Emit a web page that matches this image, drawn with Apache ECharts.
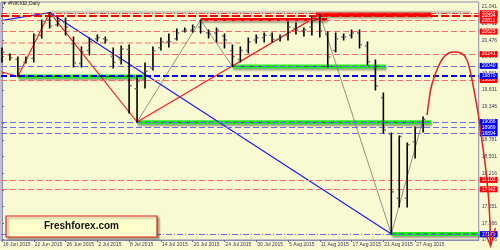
<!DOCTYPE html>
<html><head><meta charset="utf-8">
<script src="https://cdn.jsdelivr.net/npm/echarts@6/dist/echarts.min.js"></script>
<style>html,body{margin:0;padding:0;background:#fafad2}#c{width:500px;height:250px}</style>
</head><body><div id="c"></div>
<script>
// ---- data ----
const dates = ['16 Jun 2015','17 Jun 2015','18 Jun 2015','19 Jun 2015','22 Jun 2015','23 Jun 2015','24 Jun 2015','25 Jun 2015','26 Jun 2015','29 Jun 2015','30 Jun 2015',
 '1 Jul 2015','2 Jul 2015','3 Jul 2015','6 Jul 2015','7 Jul 2015','8 Jul 2015','9 Jul 2015','10 Jul 2015','13 Jul 2015','14 Jul 2015','15 Jul 2015','16 Jul 2015','17 Jul 2015','20 Jul 2015','21 Jul 2015','22 Jul 2015','23 Jul 2015','24 Jul 2015','27 Jul 2015','28 Jul 2015','29 Jul 2015','30 Jul 2015','31 Jul 2015',
 '3 Aug 2015','4 Aug 2015','5 Aug 2015','6 Aug 2015','7 Aug 2015','10 Aug 2015','11 Aug 2015','12 Aug 2015','13 Aug 2015','14 Aug 2015','17 Aug 2015','18 Aug 2015','19 Aug 2015','20 Aug 2015','21 Aug 2015','24 Aug 2015','25 Aug 2015','26 Aug 2015','27 Aug 2015','28 Aug 2015'];
const opens  = [20200,20230,20150,20100,20170,20560,20820,20740,20780,20420,20080,20300,20500,20500,20200,20150,20320,19650,19800,20000,20350,20450,20500,20630,20650,20700,20600,20600,20550,20300,20150,20300,20480,20520,20560,20500,20560,20680,20640,20700,20850,20580,20300,20530,20560,20600,20380,20000,19500,18880,17790,17790,18750,19000];
const highs  = [20344,20242,20191,20191,20582,20820,20948,20854,20854,20531,20361,20514,20565,20531,20344,20378,20395,19851,20089,20361,20514,20582,20667,20684,20735,20820,20650,20684,20582,20395,20361,20514,20565,20599,20599,20565,20786,20769,20684,20871,20914,20616,20599,20582,20650,20650,20446,20140,19579,18899,18848,18729,19001,19171];
const lows   = [20106,20140,19860,20089,20106,20514,20684,20718,20565,20021,20021,20225,20463,20429,20004,20072,19239,19086,19664,19970,20310,20361,20480,20616,20616,20599,20514,20446,20344,20030,20106,20259,20429,20446,20446,20463,20480,20582,20548,20565,20531,20021,20276,20480,20514,20344,20055,19630,18899,17182,17641,17641,18474,18916];
const closes = [20270,20180,19990,20170,20560,20800,20720,20790,20700,20090,20280,20450,20520,20480,20100,20330,19700,19780,19950,20300,20450,20450,20600,20650,20700,20780,20580,20650,20480,20200,20300,20450,20520,20560,20490,20540,20700,20650,20650,20830,20640,20190,20500,20530,20600,20400,20110,19700,18950,17900,18840,18700,18990,19130];

const dateTickIdx = [0,4,8,12,16,20,24,28,32,36,40,44,48,52];
const priceTicks = [21041,20761,20476,20196,19911,19631,19346,19061,18781,18501,18216,17931,17651,17366,17086];

const redDashDotLevel = 20935;
const redThickLevel = 20894;
const redDashedLevels = [20811,20623,20241,19800,18102,17942];
const blueThickLevel = 19870;
const blueDashedLevels = [20040,19086,18989,18894];
const blueDashDotLevel = 17179;
const blueExtraLabel = 19150;

const redPartial = [[-0.125,20429],[30,20429]];
const redZoneA = [[25,20828],[40.9,20828]];
const redZoneB = [[39.5,20914],[54,20914]];
const greenLines = [
  [[2,19860],[18,19860]],
  [[29,20030],[48.3,20030]],
  [[17,19081],[54,19081]],
  [[49,17182],[60,17182]]
];
const zigRed  = [[-0.125,19941],[2,19860],[6,20948],[17,19086],[40,20914]];
const zigBlue = [[-0.125,20808],[6,20948],[49,17182]];
const zigGray = [[17,19086],[25,20820],[29,20030],[40,20914],[49,17182],[53,19130]];
const forecast = [[53.5,19205],[53.75,19460],[54,19664],[54.4,19851],[54.9,20021],[55.5,20174],[56.25,20259],[57,20276],[57.75,20259],[58.4,20174],[58.9,19970],[59.4,19630],[59.9,19256],[60.4,18780],[60.9,18270],[61.3,17675],[61.5,16990]];
const arrowHead = [[60.8,17216],[61.5,16975],[62.1,17284]];

// ---- chart ----
const ohlc = dates.map((d,i)=>[i,opens[i],highs[i],lows[i],closes[i]]);
const chart = echarts.init(document.getElementById('c'), null, {renderer:'canvas'});
const FONT = 'Liberation Sans';

function lvl(v, color, width, type, bg, showLine){
  return {yAxis:v,
    lineStyle:{color:color,width:width,type:type,opacity: showLine===false?0:1},
    label:{show:true,position:'end',distance:1,formatter:String(v),color:'#fff',backgroundColor:bg,fontSize:5,fontFamily:FONT,padding:[1,2,0,2]}};
}
const markData = [];
markData.push(lvl(redDashDotLevel,'#ff3030',1,[6,2,1,2],'#ff0000'));
markData.push(lvl(redThickLevel,'#ff0000',2,[8,3],'#ff0000'));
redDashedLevels.forEach(v=>markData.push(lvl(v,'#ff6a6a',1,[6,3],'#ff0000')));
markData.push(lvl(blueThickLevel,'#0000ff',2,[6,3],'#0000ee'));
blueDashedLevels.forEach(v=>markData.push(lvl(v,'#6a6aff',1,[6,3],'#0000ee')));
markData.push(lvl(blueExtraLabel,'#6a6aff',1,'solid','#0000ee',false));
markData.push(lvl(blueDashDotLevel,'#6a6aff',1,[6,2,1,2],'#0000ee'));

function seg(data, color, width, type, z, shadow){
  return {type:'line', data:data, symbol:'none', silent:true, z:z, clip:true,
    lineStyle:Object.assign({color:color,width:width,type:type||'solid'}, shadow?{shadowColor:'rgba(0,0,0,0.35)',shadowBlur:2,shadowOffsetX:1,shadowOffsetY:2}:{})};
}
function freePath(points, color, width, smooth, z){
  return {type:'custom', data:[0], z:z, silent:true, clip:false,
    renderItem:function(params, api){
      return {type:'polyline', shape:{points:points.map(p=>api.coord(p)), smooth:smooth},
        style:{stroke:color,lineWidth:width,fill:null}};
    }};
}

const series = [];
series.push({type:'line', data:[], symbol:'none', silent:true, z:1, labelLayout:{hideOverlap:false},
  markLine:{silent:true, symbol:'none', animation:false, data:markData}});
series.push(seg([[6,20950],[59,20950]],'rgba(150,150,150,0.45)',3,'solid',1));
series.push(seg(redPartial,'#ff6a6a',1,[6,3],1));
series.push(seg(redZoneA,'#ff0000',3,'solid',2,true));
series.push(seg(redZoneB,'#ff0000',4,'solid',2,true));
greenLines.forEach(g=>{
  series.push(seg(g,'#22ee22',4,'solid',2,true));
  series.push(seg(g,'#007a00',1,[5,3],3));
});
series.push(seg(zigGray,'#77776a',0.8,'solid',3));
series.push(seg(zigBlue,'#1a1aff',1.2,'solid',3));
series.push(seg(zigRed,'#ff1a1a',1.2,'solid',3));
series.push({type:'custom', data:ohlc, z:5, silent:true, clip:true,
  encode:{x:0,y:[1,2,3,4]},
  renderItem:function(params, api){
    const x=api.value(0);
    const o=api.coord([x,api.value(1)]), h=api.coord([x,api.value(2)]), l=api.coord([x,api.value(3)]), c=api.coord([x,api.value(4)]);
    return {type:'group', children:[
      {type:'line', shape:{x1:h[0],y1:h[1]-0.5,x2:l[0],y2:l[1]+0.5}, style:{stroke:'#000',lineWidth:1.6}},
      {type:'line', shape:{x1:o[0]-2.5,y1:o[1],x2:o[0]-0.5,y2:o[1]}, style:{stroke:'#7a7a7a',lineWidth:1.6}},
      {type:'line', shape:{x1:c[0]+0.5,y1:c[1],x2:c[0]+2.5,y2:c[1]}, style:{stroke:'#7a7a7a',lineWidth:1.6}}
    ]};
  }});
series.push(freePath(forecast,'#dd2222',1.5,0.4,6));
series.push(freePath(arrowHead,'#dd2222',1.3,0,6));

chart.setOption({
  animation:false,
  backgroundColor:'#fafad2',
  grid:{left:0,right:19,top:2,bottom:10,show:true,borderColor:'#8a8ab8',borderWidth:1,backgroundColor:'transparent'},
  xAxis:{type:'value',min:-0.125,max:60,
    axisLine:{show:true,lineStyle:{color:'#8a8ab8'}},
    axisTick:{show:true,customValues:dateTickIdx,length:2,lineStyle:{color:'#6a6a98'}},
    axisLabel:{customValues:dateTickIdx,formatter:v=>dates[Math.round(v)]||'',fontSize:5,fontFamily:FONT,color:'#3a3a5a',align:'left',margin:2,padding:[0,0,0,1]},
    splitLine:{show:false}},
  yAxis:{type:'value',position:'right',min:17080,max:21126,
    axisLine:{show:true,lineStyle:{color:'#8a8ab8'}},
    axisTick:{show:true,customValues:priceTicks,length:2,lineStyle:{color:'#6a6a98'}},
    axisLabel:{customValues:priceTicks,fontSize:5,fontFamily:FONT,color:'#3a3a5a',margin:3},
    splitLine:{show:false}},
  graphic:[
    {type:'text',left:2,top:1,z:10,style:{text:'▼ #NIKKEI,Daily',fontSize:5,fontFamily:FONT,fill:'#222'}},
    {type:'rect',shape:{x:6,y:216,width:151,height:21},z:10,
      style:{fill:'#ffffcc',stroke:'#e02020',lineWidth:1.2,shadowColor:'rgba(0,0,0,0.35)',shadowBlur:2,shadowOffsetX:2,shadowOffsetY:2}},
    {type:'text',x:81.5,y:226.5,z:11,style:{text:'Freshforex.com',fontSize:10,fontWeight:'bold',fontFamily:FONT,fill:'#111',align:'center',verticalAlign:'middle'}}
  ],
  series:series
});
</script></body></html>
